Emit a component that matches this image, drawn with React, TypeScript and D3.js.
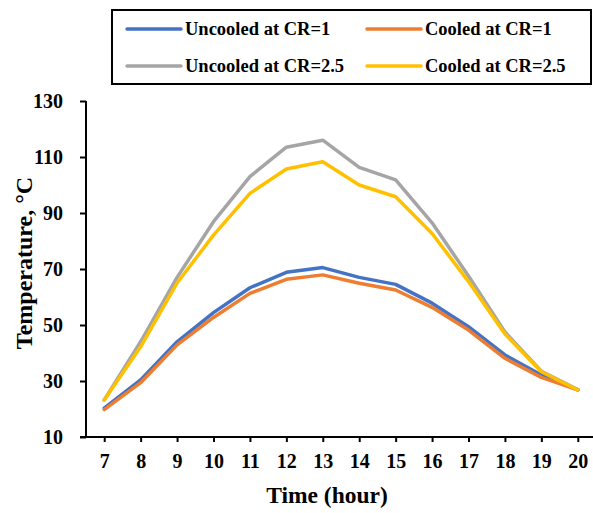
import React, { useEffect, useRef } from 'react';
import * as d3 from 'd3';

const hours = [7, 8, 9, 10, 11, 12, 13, 14, 15, 16, 17, 18, 19, 20];
const uncooledCR1 = [20.3, 30.4, 44, 54.4, 63.3, 68.8, 70.5, 67, 64.5, 57.8, 49.4, 39.3, 32.1, 26.8];
const cooledCR1 = [19.8, 29.4, 42.9, 52.7, 61.3, 66.3, 67.9, 64.9, 62.5, 56.3, 48.2, 38.1, 31.3, 26.8];
const uncooledCR25 = [23.2, 44, 67, 86.9, 103, 113.5, 116, 106.3, 101.8, 86.5, 67.5, 47.5, 33.5, 26.9];
const cooledCR25 = [23.2, 42.2, 65, 82.1, 97, 105.7, 108.3, 100, 95.8, 82.7, 65.5, 46.8, 33.3, 26.8];
const yTicks = [10, 30, 50, 70, 90, 110, 130];

const seriesList = [
  { name: 'Uncooled at CR=1', values: uncooledCR1, color: '#4472C4' },
  { name: 'Cooled at CR=1', values: cooledCR1, color: '#ED7D31' },
  { name: 'Uncooled at CR=2.5', values: uncooledCR25, color: '#A5A5A5' },
  { name: 'Cooled at CR=2.5', values: cooledCR25, color: '#FFC000' },
];

const W = 593;
const H = 513;
const FONT = '"Liberation Serif", "Times New Roman", serif';

const App: React.FC = () => {
  const svgRef = useRef<SVGSVGElement>(null);

  useEffect(() => {
    if (!svgRef.current) return;
    const svg = d3.select(svgRef.current);
    svg.selectAll('*').remove();

    const x = d3.scaleLinear().domain([6.5, 20.5]).range([86, 596]);
    const y = d3.scaleLinear().domain([10, 130]).range([437, 101]);

    // Y axis
    const yAxis = svg.append('g')
      .attr('transform', 'translate(86,0)')
      .call(d3.axisLeft(y).tickValues(yTicks).tickSize(6).tickPadding(17).tickFormat(d3.format('d')));
    yAxis.select('.domain').attr('stroke', '#000').attr('stroke-width', 2).attr('d', 'M0,101V437');
    yAxis.selectAll('.tick line').attr('stroke', '#000').attr('stroke-width', 2);
    yAxis.selectAll('.tick text')
      .attr('fill', '#000')
      .attr('font-family', FONT)
      .attr('font-weight', 'bold')
      .attr('font-size', 20);

    // X axis
    const xAxis = svg.append('g')
      .attr('transform', 'translate(0,437)')
      .call(d3.axisBottom(x).tickValues(hours).tickSize(5).tickPadding(12).tickFormat(d3.format('d')));
    xAxis.select('.domain').attr('stroke', '#000').attr('stroke-width', 2).attr('d', 'M80,0H596');
    xAxis.selectAll('.tick line').attr('stroke', '#000').attr('stroke-width', 2);
    xAxis.selectAll('.tick text')
      .attr('fill', '#000')
      .attr('font-family', FONT)
      .attr('font-weight', 'bold')
      .attr('font-size', 20);

    // Lines
    const line = d3.line<number>()
      .x((_, i) => x(hours[i]))
      .y(d => y(d));

    seriesList.forEach(s => {
      svg.append('path')
        .datum(s.values)
        .attr('d', line)
        .attr('fill', 'none')
        .attr('stroke', s.color)
        .attr('stroke-width', 3.5)
        .attr('stroke-linejoin', 'round')
        .attr('stroke-linecap', 'round');
    });

    // Axis titles
    svg.append('text')
      .attr('x', 327)
      .attr('y', 503)
      .attr('text-anchor', 'middle')
      .attr('font-family', FONT)
      .attr('font-weight', 'bold')
      .attr('font-size', 23.5)
      .text('Time (hour)');

    svg.append('text')
      .attr('transform', 'translate(32,263) rotate(-90)')
      .attr('text-anchor', 'middle')
      .attr('font-family', FONT)
      .attr('font-weight', 'bold')
      .attr('font-size', 24)
      .text('Temperature, °C');

    // Legend
    const legend = svg.append('g');
    legend.append('rect')
      .attr('x', 112)
      .attr('y', 10)
      .attr('width', 479)
      .attr('height', 74)
      .attr('fill', '#fff')
      .attr('stroke', '#000')
      .attr('stroke-width', 2);

    const cols = [127, 367];
    const rows = [29, 66];
    seriesList.forEach((s, i) => {
      const lx = cols[i % 2];
      const ly = rows[Math.floor(i / 2)];
      legend.append('line')
        .attr('x1', lx)
        .attr('x2', lx + 54)
        .attr('y1', ly)
        .attr('y2', ly)
        .attr('stroke', s.color)
        .attr('stroke-width', 3.5)
        .attr('stroke-linecap', 'round');
      legend.append('text')
        .attr('x', lx + 58)
        .attr('y', ly + 6)
        .attr('font-family', FONT)
        .attr('font-weight', 'bold')
        .attr('font-size', 18.5)
        .text(s.name);
    });
  }, []);

  return (
    <svg
      ref={svgRef}
      width={W}
      height={H}
      style={{ position: 'absolute', left: 0, top: 0, background: '#fff' }}
    />
  );
};

export default App;
